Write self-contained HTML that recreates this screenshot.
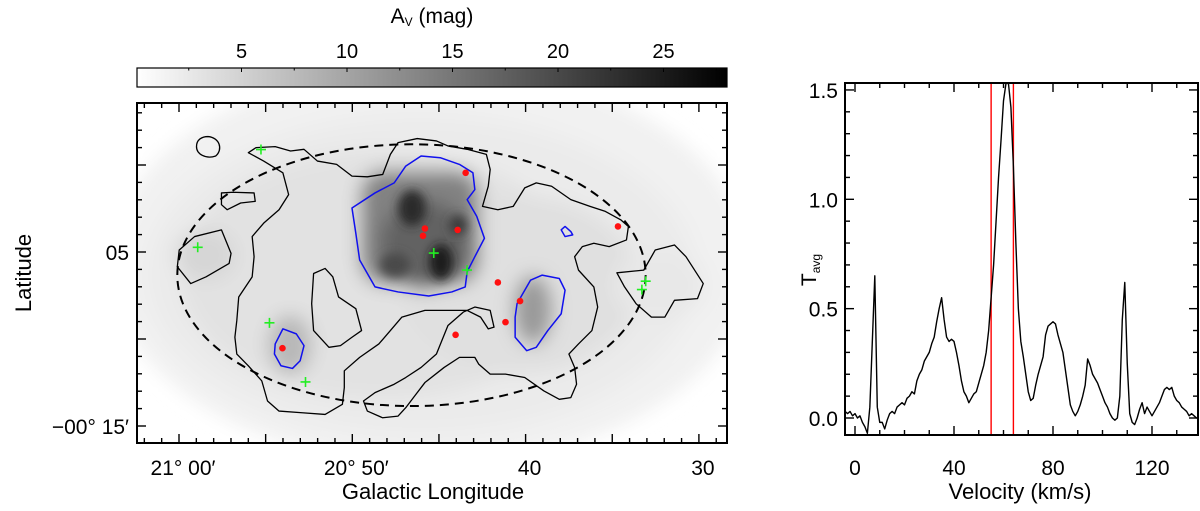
<!DOCTYPE html>
<html><head><meta charset="utf-8"><style>
html,body{margin:0;padding:0;background:#fff;}
svg{display:block;font-family:"Liberation Sans",Arial,sans-serif;}
</style></head><body>
<svg id="fig" width="1200" height="511" viewBox="0 0 1200 511" xmlns="http://www.w3.org/2000/svg">
<defs>
<linearGradient id="cbg" x1="0" x2="1" y1="0" y2="0"><stop offset="0" stop-color="#fff"/><stop offset="1" stop-color="#000"/></linearGradient>
<filter id="bl" x="-20%" y="-20%" width="140%" height="140%"><feGaussianBlur stdDeviation="9"/></filter>
<filter id="bl2" x="-20%" y="-20%" width="140%" height="140%"><feGaussianBlur stdDeviation="5"/></filter>
<clipPath id="mapclip"><rect x="137" y="103" width="590" height="340"/></clipPath>
<clipPath id="specclip"><rect x="845" y="83" width="353" height="352"/></clipPath>
</defs>
<!-- colorbar -->
<text x="432" y="23" font-size="21" text-anchor="middle">A<tspan font-size="12" dy="3">V</tspan><tspan dy="-3"> (mag)</tspan></text>
<rect x="137" y="68" width="590" height="19" fill="url(#cbg)" stroke="#000" stroke-width="1.2"/>
<g id="cbticks"></g>

<!-- map -->
<g clip-path="url(#mapclip)">
 <g filter="url(#bl)">
  <ellipse cx="430" cy="265" rx="320" ry="200" fill="#f1f1f1"/>
  <ellipse cx="420" cy="275" rx="275" ry="160" fill="#ebebeb"/>
  <ellipse cx="380" cy="275" rx="200" ry="125" fill="#e2e2e2"/>
  <ellipse cx="520" cy="285" rx="120" ry="90" fill="#e0e0e0"/>
  <ellipse cx="660" cy="285" rx="45" ry="35" fill="#e8e8e8"/>
  <ellipse cx="205" cy="255" rx="30" ry="25" fill="#d6d6d6"/>
  <ellipse cx="290" cy="345" rx="22" ry="30" fill="#b8b8b8"/>
  <ellipse cx="533" cy="310" rx="20" ry="35" fill="#9a9a9a"/>
  <rect x="360" y="170" width="120" height="115" rx="25" fill="#828282"/>
  <ellipse cx="425" cy="245" rx="45" ry="45" fill="#626262"/>
 </g>
 <g filter="url(#bl2)">
  <ellipse cx="412" cy="208" rx="14" ry="18" fill="#2a2a2a"/>
  <ellipse cx="441" cy="262" rx="12" ry="18" fill="#1a1a1a"/>
  <ellipse cx="458" cy="225" rx="9" ry="10" fill="#3a3a3a"/>
  <ellipse cx="395" cy="265" rx="15" ry="12" fill="#4a4a4a"/>
 </g>
 <polygon points="137,390 137,443 200,443" fill="#fff" filter="url(#bl2)"/>
</g>
<g clip-path="url(#mapclip)">
<g transform="translate(129.32,88.9) scale(0.3839,0.3356)" fill="none" stroke-linejoin="round">
 <ellipse cx="735" cy="555" rx="610" ry="390" stroke="#000" stroke-width="2" vector-effect="non-scaling-stroke" stroke-dasharray="9,6"/>
 <g stroke="#000" stroke-width="1.3">
  <path vector-effect="non-scaling-stroke" d="M205,142 C235,145 245,180 225,200 C200,210 175,195 175,172 C175,150 190,142 205,142Z"/>
  <path vector-effect="non-scaling-stroke" d="M310,190 L330,175 L380,172 L420,185 L455,180 L490,215 L540,225 L580,260 L620,262 L660,255 L680,195 L700,160 L750,148 L800,155 L830,170 L880,180 L930,195 L940,240 L935,290 L920,350 L960,360 L1000,350 L1030,295 L1060,280 L1100,290 L1150,330 L1200,350 L1240,365 L1280,390 L1300,410 L1295,450 L1250,470 L1210,460 L1180,470 L1160,500 L1170,540 L1210,590 L1220,650 L1205,720 L1170,760 L1145,790 L1160,830 L1165,880 L1150,920 L1120,925 L1080,900 L1030,860 L980,850 L940,850 L910,820 L900,800 L860,800 L820,830 L770,875 L740,920 L720,950 L700,975 L660,980 L620,960 L610,930 L640,905 L690,880 L720,860 L760,830 L800,790 L830,705 L870,665 L900,650 L940,660 L950,710 L935,715 L915,680 L880,660 L830,660 L770,660 L710,680 L680,720 L650,760 L600,800 L560,840 L560,890 L555,940 L510,970 L450,965 L390,960 L360,930 L345,870 L310,825 L280,790 L275,740 L280,690 L285,620 L320,560 L325,500 L320,440 L350,400 L390,360 L415,315 L400,250 L350,215 Z"/>
  <path vector-effect="non-scaling-stroke" d="M1270,548 L1340,540 L1370,480 L1420,465 L1450,500 L1495,580 L1480,625 L1420,630 L1395,680 L1360,680 L1320,640 L1290,590 Z"/>
  <path vector-effect="non-scaling-stroke" d="M240,310 L270,308 L325,310 L328,335 L290,340 L255,360 L240,345 Z"/>
  <path vector-effect="non-scaling-stroke" d="M125,530 L130,480 L170,440 L240,420 L265,490 L260,520 L200,560 L160,580 Z"/>
  <path vector-effect="non-scaling-stroke" d="M480,550 L510,535 L530,560 L545,620 L590,655 L605,720 L580,740 L550,765 L520,770 L480,720 L475,640 Z"/>
 </g>
 <g stroke="#1010ee" stroke-width="1.5">
  <path vector-effect="non-scaling-stroke" d="M580,355 L640,310 L690,280 L720,230 L760,200 L810,205 L860,225 L895,250 L900,300 L880,330 L905,380 L925,445 L900,500 L880,545 L875,590 L840,605 L780,617 L700,605 L640,590 L600,510 L590,430 Z"/>
  <path vector-effect="non-scaling-stroke" d="M380,760 L400,715 L435,730 L455,765 L445,810 L425,833 L395,825 L378,790 Z"/>
  <path vector-effect="non-scaling-stroke" d="M1010,640 L1045,570 L1075,555 L1120,565 L1135,600 L1125,670 L1090,720 L1060,770 L1035,780 L1005,740 L1005,680 Z"/>
  <path vector-effect="non-scaling-stroke" d="M1125,420 L1135,410 L1150,425 L1155,435 L1135,440 Z"/>
 </g>
</g>
</g>
<g id="mapmarks"></g>
<rect x="137" y="103" width="590" height="340" fill="none" stroke="#000" stroke-width="2"/>
<g id="mapticks"></g>
<text transform="translate(31,273) rotate(-90)" font-size="22" text-anchor="middle">Latitude</text>
<text x="433" y="499" font-size="22" text-anchor="middle">Galactic Longitude</text>

<!-- spectrum -->
<g id="spec"></g>
<rect x="845" y="83" width="353" height="352" fill="none" stroke="#000" stroke-width="2"/>
<text transform="translate(816,270) rotate(-90)" font-size="21" text-anchor="middle">T<tspan font-size="12" dy="4">avg</tspan></text>
<text x="1020" y="499" font-size="22" text-anchor="middle">Velocity (km/s)</text>
</svg>
<script>
const NS="http://www.w3.org/2000/svg";
// colorbar
const cbTicks=[5,10,15,20,25];
// map points (d: arcmin east offset from 21°00', b: arcmin latitude)
const redD=[16.54,14.19,14.08,16.08,25.33,18.40,19.68,18.84,15.96,5.97];
const redB=[9.55,6.35,5.93,6.27,6.47,3.25,2.18,0.97,0.24,-0.53];
const greenD=[4.73,1.08,14.70,16.62,5.22,7.30,26.93,26.71];
const greenB=[10.89,5.27,4.94,3.96,0.93,-2.47,3.32,2.84];
const lonTickVals=[0,10,20,30];
const lonTickLabels=["21\u00b0 00\u2032","20\u00b0 50\u2032","40","30"];
const latTickVals=[5,-5];
const latTickLabels=["05","\u221200\u00b0 15\u2032"];
// spectrum: velocity starts at -4 km/s, 1 km/s channels
const velStart=-4;
const tavg=[0.03,0.02,0.03,0.01,0.02,0.00,0.01,-0.02,-0.04,
-0.07,0.05,0.35,0.65,0.05,-0.02,-0.02,-0.05,-0.01,0.02,0.03,
0.02,0.05,0.06,0.07,0.06,0.09,0.10,0.12,0.11,0.17,
0.20,0.22,0.26,0.28,0.30,0.34,0.37,0.44,0.50,0.55,
0.45,0.37,0.35,0.36,0.35,0.30,0.24,0.17,0.12,0.10,
0.07,0.09,0.11,0.12,0.16,0.20,0.24,0.30,0.40,0.55,
0.70,0.90,1.10,1.27,1.45,1.53,1.53,1.42,1.15,0.80,
0.50,0.35,0.28,0.20,0.12,0.08,0.09,0.15,0.20,0.24,
0.28,0.38,0.42,0.43,0.44,0.43,0.38,0.34,0.30,0.22,
0.14,0.06,0.03,0.01,0.03,0.06,0.10,0.15,0.27,0.24,
0.20,0.18,0.16,0.13,0.10,0.07,0.05,0.02,0.00,-0.01,
0.00,0.10,0.45,0.62,0.25,0.02,-0.02,-0.03,0.00,0.04,
0.07,0.02,0.05,0.03,0.01,0.03,0.05,0.07,0.10,0.13,
0.14,0.13,0.14,0.10,0.08,0.07,0.05,0.04,0.03,0.01,
0.02,0.01,0.00,0.00];
const redLines=[55,64];
const specYTicks=[0,0.5,1,1.5];
const specYLabels=["0.0","0.5","1.0","1.5"];
const specXTicks=[0,40,80,120];

function el(tag,attrs,parent){const e=document.createElementNS(NS,tag);for(const k in attrs)e.setAttribute(k,attrs[k]);parent.appendChild(e);return e;}
const cbX=v=>136+v*21.1;
const mx=d=>179+d*17.33;
const my=b=>252-(b-5)*17.4;
const sx=v=>855+v*2.475;
const sy=t=>418-t*218.7;

const cb=document.getElementById('cbticks');
for(let v=2.5;v<28;v+=2.5){const major=Math.abs(v%5)<1e-6;
 el('line',{x1:cbX(v),x2:cbX(v),y1:68,y2:68+(major?4:2.5),stroke:'#000','stroke-width':1},cb);}
cbTicks.forEach(v=>{const t=el('text',{x:cbX(v),y:58,'font-size':20,'text-anchor':'middle'},cb);t.textContent=v;
 
 });

const mm=document.getElementById('mapmarks');
redD.forEach((d,i)=>{const c=el('circle',{cx:mx(d),cy:my(redB[i]),r:3.3,fill:'#ff1010'},mm);
 
 });
greenD.forEach((d,i)=>{const x=mx(d),y=my(greenB[i]);
 const p=el('path',{d:`M${x-5},${y}H${x+5}M${x},${y-5}V${y+5}`,stroke:'#22ee22','stroke-width':1.6},mm);
 
 });

const mt=document.getElementById('mapticks');
for(let d=-2;d<=32;d++){const x=mx(d);if(x<138||x>726)continue;const L=(d%5===0)?9:5;
 el('line',{x1:x,x2:x,y1:443,y2:443-L,stroke:'#000','stroke-width':1.4},mt);
 el('line',{x1:x,x2:x,y1:103,y2:103+L,stroke:'#000','stroke-width':1.4},mt);}
for(let b=15;b>=-12;b--){const y=my(b);if(y<104||y>442)continue;const L=(((b%5)+5)%5===0)?9:5;
 el('line',{x1:137,x2:137+L,y1:y,y2:y,stroke:'#000','stroke-width':1.4},mt);
 el('line',{x1:727,x2:727-L,y1:y,y2:y,stroke:'#000','stroke-width':1.4},mt);}
lonTickVals.forEach((d,i)=>{const t=el('text',{x:mx(d)+4,y:475,'font-size':21,'text-anchor':'middle'},mt);t.textContent=lonTickLabels[i];
 
 });
latTickVals.forEach((b,i)=>{const t=el('text',{x:129,y:my(b)+8,'font-size':21,'text-anchor':'end'},mt);t.textContent=latTickLabels[i];
 
 });

const sp=document.getElementById('spec');
const g=el('g',{'clip-path':'url(#specclip)'},sp);
redLines.forEach(v=>{const l=el('line',{x1:sx(v),x2:sx(v),y1:83,y2:435,stroke:'#ff0000','stroke-width':1.4},g);
 
 });
const pl=el('polyline',{points:tavg.map((t,i)=>sx(velStart+i)+','+sy(t)).join(' '),fill:'none',stroke:'#000','stroke-width':1.4,'stroke-linejoin':'round'},g);


for(let v=0;v<=135;v+=10){const x=sx(v);const L=(v%40===0)?9:5;
 el('line',{x1:x,x2:x,y1:435,y2:435-L,stroke:'#000','stroke-width':1.4},sp);
 el('line',{x1:x,x2:x,y1:83,y2:83+L,stroke:'#000','stroke-width':1.4},sp);}
for(let k=0;k<=15;k++){const t=k/10;const y=sy(t);const L=(k%5===0)?9:5;
 el('line',{x1:845,x2:845+L,y1:y,y2:y,stroke:'#000','stroke-width':1.4},sp);
 el('line',{x1:1198,x2:1198-L,y1:y,y2:y,stroke:'#000','stroke-width':1.4},sp);}
specYTicks.forEach((t,i)=>{const e=el('text',{x:838,y:sy(t)+8,'font-size':21,'text-anchor':'end'},sp);e.textContent=specYLabels[i];
 
 });
specXTicks.forEach(v=>{const e=el('text',{x:sx(v),y:475,'font-size':21,'text-anchor':'middle'},sp);e.textContent=v;
 
 });
</script>
</body></html>
